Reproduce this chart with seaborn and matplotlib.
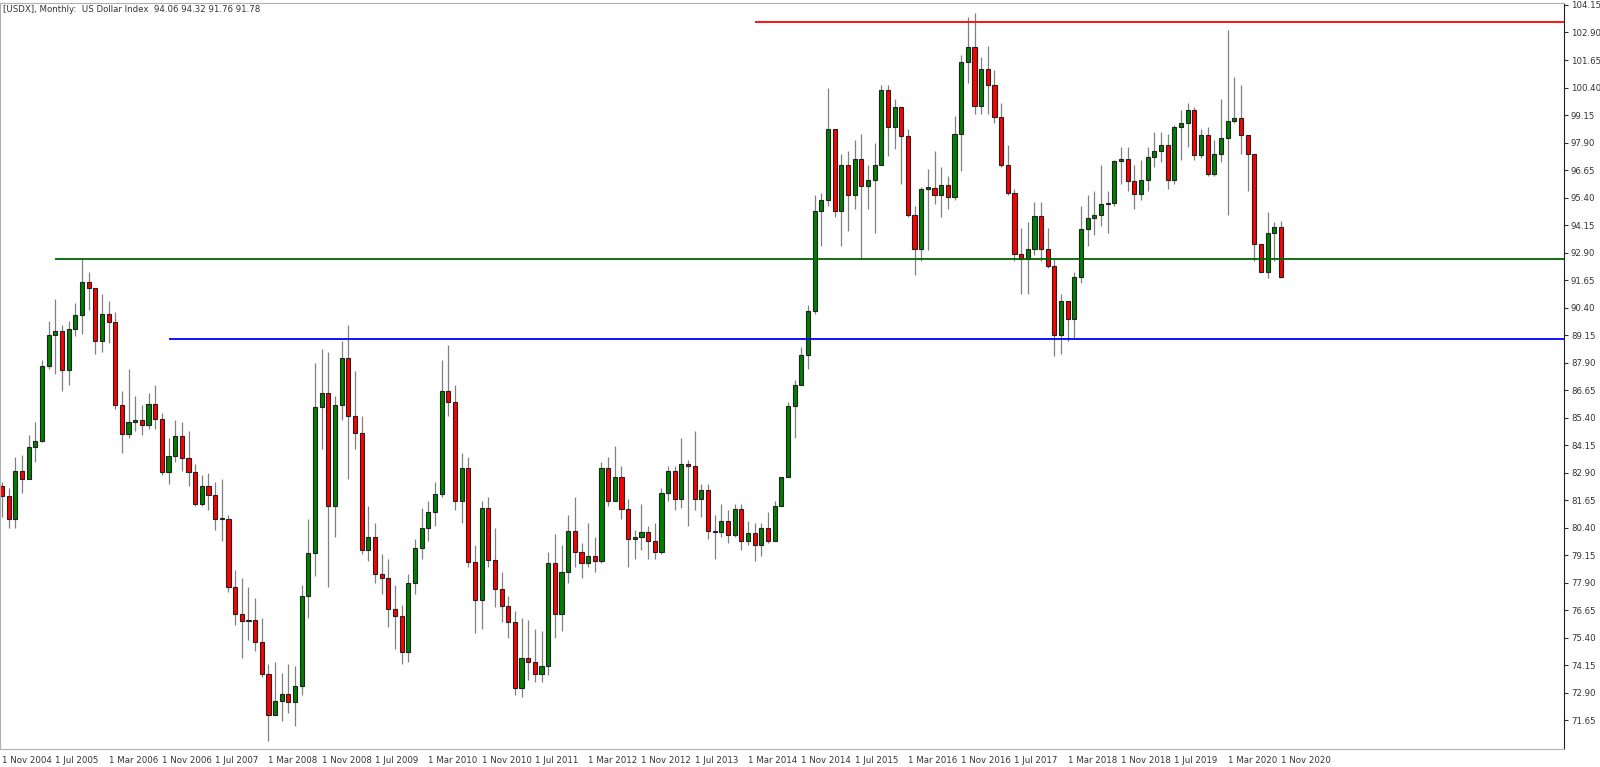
import numpy as np
import pandas as pd
import matplotlib
matplotlib.use("Agg")
import matplotlib.pyplot as plt
import seaborn as sns

# Monthly US Dollar Index, Nov 2004 .. Nov 2020
first_open = 82.30
closes = [
    81.84, 80.82,
    83.00, 82.60, 84.06, 84.36, 87.73, 89.15, 89.36, 87.58, 89.42, 90.06, 91.58, 91.31,
    88.87, 90.10, 89.73, 85.98, 84.65, 85.20, 85.30, 85.09, 86.03, 85.35, 82.93, 83.65,
    84.59, 83.56, 82.93, 81.46, 82.30, 81.90, 80.80, 80.80, 77.72, 76.50, 76.16, 76.20,
    75.20, 73.75, 71.90, 72.55, 72.85, 72.50, 73.20, 77.30, 79.26, 85.90, 86.50, 81.40,
    86.00, 88.10, 85.50, 84.70, 79.40, 80.00, 78.30, 78.10, 76.70, 76.40, 74.75, 77.90,
    79.50, 80.40, 81.10, 81.95, 86.60, 86.10, 81.60, 83.10, 78.85, 77.10, 81.30, 78.95,
    77.60, 76.86, 76.10, 73.10, 74.50, 74.30, 73.75, 74.10, 78.82, 76.50, 78.40, 80.24,
    79.30, 78.82, 79.10, 78.90, 83.10, 81.60, 82.70, 81.27, 79.90, 80.00, 80.20, 79.80,
    79.30, 82.00, 82.99, 81.70, 83.30, 83.20, 81.70, 82.10, 80.24, 80.20, 80.70, 80.06,
    81.27, 79.80, 80.15, 79.60, 80.40, 79.80, 81.40, 82.70, 85.95, 86.90, 88.25, 90.24,
    94.80, 95.27, 98.50, 94.78, 96.90, 95.54, 97.17, 95.92, 96.20, 96.90, 100.27, 98.60,
    99.50, 98.20, 94.60, 93.05, 95.80, 95.85, 95.54, 95.98, 95.43, 98.30, 101.55, 102.23,
    99.54, 101.25, 100.50, 99.05, 96.90, 95.60, 92.85, 92.60, 93.05, 94.56, 93.05, 92.27,
    89.15, 90.70, 89.90, 91.80, 93.96, 94.48, 94.60, 95.10, 95.17, 97.05, 97.16, 96.14,
    95.57, 96.19, 97.25, 97.50, 97.78, 96.22, 98.60, 98.80, 99.40, 97.33, 98.26, 96.45,
    97.36, 98.10, 98.90, 99.00, 98.26, 97.40, 93.30, 92.00, 93.80, 94.06, 91.78,
]
highs = [
    82.5, 82.2,
    83.6, 83.7, 84.6, 85.2, 88.0, 89.8, 90.8, 89.6, 89.8, 90.6, 92.6, 92.0,
    91.3, 91.0, 90.7, 90.2, 86.6, 87.6, 86.4, 86.0, 86.5, 86.9, 85.6, 84.5,
    85.3, 85.2, 84.8, 83.3, 82.8, 82.9, 82.5, 82.6, 81.0, 78.5, 78.1, 77.7,
    77.2, 76.3, 74.2, 74.3, 73.8, 74.2, 74.1, 77.8, 80.8, 87.9, 88.5, 88.4,
    86.4, 88.9, 89.6, 87.5, 85.5, 81.4, 80.6, 79.2, 79.0, 77.8, 76.9, 78.3,
    79.9, 81.3, 81.6, 82.5, 88.0, 88.7, 86.9, 83.8, 83.6, 79.6, 81.6, 81.8,
    80.4, 78.4, 77.3, 76.6, 76.3, 76.2, 75.8, 75.7, 79.3, 80.1, 79.6, 81.0,
    81.8, 79.7, 80.6, 80.0, 83.4, 83.6, 84.1, 83.2, 81.7, 80.3, 81.5, 80.5,
    80.6, 82.2, 83.2, 83.2, 84.5, 83.5, 84.8, 82.4, 82.4, 81.0, 81.5, 81.2,
    81.5, 81.5, 80.7, 80.6, 80.6, 81.1, 81.6, 82.7, 86.1, 87.1, 88.6, 90.5,
    95.5, 95.6, 100.4, 98.3, 97.4, 97.5, 98.0, 98.3, 96.9, 97.9, 100.5, 100.5,
    99.9, 99.5, 98.5, 95.0, 95.9, 96.7, 97.5, 96.8, 96.4, 99.1, 101.9, 103.6,
    103.8, 101.8, 102.3, 101.2, 99.7, 97.8, 95.8, 94.0, 94.3, 95.2, 95.2, 94.0,
    92.6, 91.0, 90.5, 92.0, 95.0, 95.5, 95.7, 96.9, 95.7, 97.1, 97.7, 97.7,
    96.9, 97.1, 97.7, 98.4, 98.4, 98.3, 98.7, 99.4, 99.7, 99.5, 98.5, 98.6,
    98.0, 99.9, 103.0, 100.9, 100.5, 97.8, 97.2, 93.0, 94.74, 94.3, 94.32,
]
lows = [
    80.9, 80.4,
    80.4, 82.0, 82.6, 83.4, 84.3, 87.6, 87.4, 86.6, 86.9, 89.1, 89.2, 90.3,
    88.3, 88.4, 88.8, 85.8, 83.8, 84.5, 84.8, 84.6, 84.9, 84.9, 82.8, 82.4,
    83.4, 83.0, 82.3, 81.4, 81.4, 81.2, 80.3, 79.8, 77.5, 76.0, 74.5, 75.3,
    74.8, 73.6, 70.7, 71.9, 71.6, 72.0, 71.4, 72.8, 76.3, 78.2, 84.0, 77.7,
    80.0, 85.3, 82.6, 84.0, 79.2, 78.9, 77.9, 77.4, 75.9, 74.9, 74.2, 74.3,
    77.4, 79.0, 79.8, 80.5, 81.8, 85.5, 81.2, 80.6, 78.6, 75.6, 75.8, 78.6,
    76.8, 76.1, 75.4, 72.8, 72.7, 73.5, 73.4, 73.4, 73.7, 75.4, 75.7, 77.9,
    78.6, 78.1, 78.6, 78.4, 78.8, 81.4, 81.6, 80.8, 78.6, 79.0, 79.4, 79.0,
    79.0, 79.2, 81.6, 81.2, 81.3, 80.5, 81.2, 80.9, 79.9, 79.0, 80.0, 79.7,
    80.0, 79.4, 79.6, 78.9, 79.1, 79.7, 80.8, 81.5, 82.7, 84.5, 87.1, 87.6,
    90.1, 93.2, 95.0, 94.5, 93.2, 93.9, 94.9, 92.6, 94.9, 93.8, 96.9, 97.3,
    97.6, 96.0, 94.5, 91.9, 92.5, 93.0, 95.1, 94.5, 94.9, 95.3, 96.6, 100.6,
    99.2, 99.2, 99.2, 98.8, 96.8, 95.5, 92.5, 91.0, 91.0, 92.8, 92.5, 92.2,
    88.2, 88.3, 88.9, 89.0, 91.5, 93.2, 93.7, 94.1, 93.8, 95.0, 96.0, 95.7,
    94.9, 95.3, 95.7, 96.8, 97.0, 95.8, 96.0, 97.1, 97.7, 97.1, 97.2, 96.4,
    96.4, 97.0, 94.6, 98.8, 97.4, 95.7, 92.5, 92.0, 91.75, 92.5, 91.76,
]
dates = pd.date_range("2004-11-01", periods=len(closes), freq="MS")

# horizontal levels: (price, first month, colour)
levels = [(103.38, "2014-04-01", "#ff0000"),
          (92.60, "2005-07-01", "#006400"),
          (88.97, "2006-12-01", "#0000ff")]

df = pd.DataFrame({"date": dates, "close": closes, "high": highs, "low": lows})
df["open"] = [first_open] + closes[:-1]
df["x"] = np.arange(len(df))
df["high"] = df[["high", "open", "close"]].max(axis=1)
df["low"] = df[["low", "open", "close"]].min(axis=1)
up = df["close"] >= df["open"]

sns.set_style("white")
plt.rcParams["savefig.bbox"] = None
fig = plt.figure(figsize=(16, 7.67), dpi=100)
ax = fig.add_axes([0.0, 18 / 767, 1564 / 1600, 746 / 767])

ax.vlines(df["x"], df["low"], df["high"], color="#808080", lw=0.9, zorder=1)
for mask, col in [(up, "#008000"), (~up, "#ff0000")]:
    d = df[mask]
    ax.bar(d["x"], (d["close"] - d["open"]).abs().clip(lower=0.06),
           bottom=d[["open", "close"]].min(axis=1), width=0.62,
           color=col, edgecolor="#222222", linewidth=0.8, zorder=2)

for price, start, col in levels:
    xs = df.loc[df["date"] == pd.Timestamp(start), "x"].iloc[0]
    ax.hlines(price, xs, 240, color=col, lw=1.3, zorder=3)

ax.set_xlim(-0.3, 234.5)
ax.set_ylim(70.35, 104.24)

yt = np.arange(71.65, 104.2, 1.25)
ax.yaxis.tick_right()
ax.set_yticks(yt)
ax.set_yticklabels([f"{v:.2f}" for v in yt], fontsize=6.2, color="#333333")
xt = df["x"][::8]
ax.set_xticks(xt)
ax.set_xticklabels([d.strftime("1 %b %Y") for d in df["date"][::8]],
                   fontsize=6.2, color="#333333", ha="left")
ax.tick_params(axis="both", length=3, width=0.8, color="#333333", direction="out", pad=2)
for s in ["left", "top", "bottom"]:
    ax.spines[s].set_color("#b0b0b0")
ax.spines["right"].set_color("#222222")

ax.text(0.002, 0.997, "[USDX], Monthly:  US Dollar Index  94.06 94.32 91.76 91.78",
        transform=ax.transAxes, fontsize=6.2, color="#333333", va="top", ha="left")

fig.savefig("out.png", dpi=100, bbox_inches=None)
